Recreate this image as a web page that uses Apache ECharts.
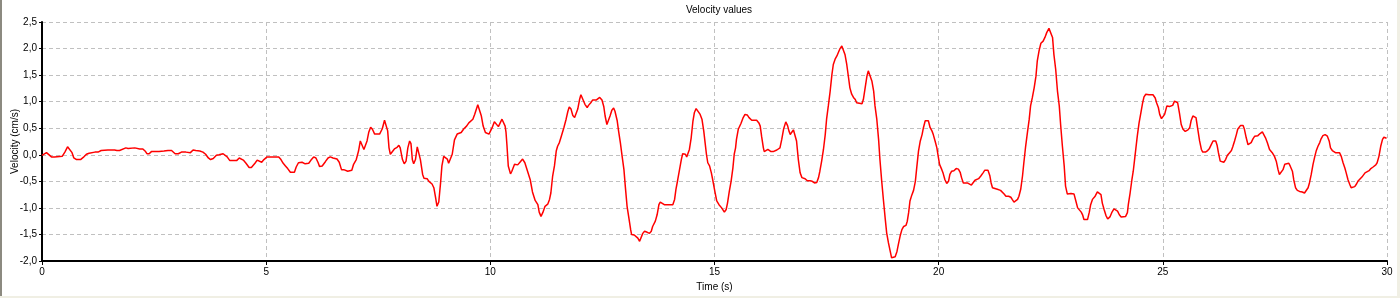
<!DOCTYPE html>
<html>
<head>
<meta charset="utf-8">
<script src="https://cdn.jsdelivr.net/npm/echarts@6/dist/echarts.min.js"></script>
<style>
html,body{margin:0;padding:0;background:#fff;}
#chart{width:1400px;height:298px;}
</style>
</head>
<body>
<div id="chart"></div>
<script>
const chartTitle = "Velocity values";
const xAxisName = "Time (s)";
const yAxisName = "Velocity (cm/s)";

const timeS = [
0.00,0.10,0.21,0.28,0.30,0.45,0.51,0.57,0.60,0.67,0.71,0.77,0.86,0.92,0.99,
1.05,1.18,1.25,1.32,1.47,1.62,1.67,1.73,1.77,1.87,1.92,1.96,
2.07,2.11,2.18,2.25,2.31,2.34,2.39,2.44,2.51,2.61,2.72,2.76,2.81,2.89,2.92,2.97,
3.04,3.11,3.21,3.24,3.31,3.37,3.43,3.46,3.52,3.59,3.65,3.71,3.76,3.82,3.89,3.95,
4.04,4.08,4.13,4.19,4.34,4.40,4.43,4.49,4.55,4.62,4.67,4.75,4.80,4.84,4.90,4.95,
5.02,5.17,5.20,5.28,5.33,5.38,5.43,5.48,5.54,5.58,5.63,5.67,5.72,5.80,5.87,5.95,
6.00,6.06,6.11,6.16,6.19,6.25,6.32,6.38,6.43,6.49,6.58,6.63,6.68,6.73,6.77,6.82,6.86,6.91,6.95,
7.01,7.06,7.10,7.14,7.18,7.21,7.25,7.29,7.33,7.37,7.42,7.53,7.59,7.64,7.68,7.71,7.74,7.77,7.81,7.86,7.92,7.96,7.99,
8.04,8.08,8.12,8.16,8.20,8.23,8.26,8.29,8.33,8.37,8.40,8.44,8.49,8.52,8.59,8.63,8.70,8.74,8.78,8.81,8.85,8.89,8.92,8.96,
9.00,9.04,9.07,9.11,9.15,9.20,9.26,9.35,9.41,9.47,9.52,9.61,9.65,9.72,9.76,9.80,9.84,9.89,9.97,
10.00,10.04,10.09,10.13,10.18,10.22,10.26,10.30,10.33,10.35,10.37,10.40,10.45,10.48,10.54,10.61,10.67,10.72,10.77,10.83,10.89,10.94,
11.00,11.06,11.09,11.13,11.17,11.22,11.28,11.32,11.35,11.39,11.43,11.47,11.50,11.54,11.58,11.64,11.69,11.73,11.76,11.80,11.84,11.88,11.91,11.95,11.99,
12.02,12.06,12.11,12.16,12.19,12.25,12.28,12.36,12.40,12.44,12.49,12.53,12.56,12.60,12.63,12.67,12.71,12.75,12.78,12.83,12.86,12.90,12.94,12.98,
13.01,13.05,13.09,13.13,13.15,13.21,13.25,13.29,13.33,13.36,13.40,13.44,13.50,13.55,13.59,13.62,13.68,13.72,13.76,13.79,13.82,13.88,
14.00,14.07,14.11,14.14,14.18,14.22,14.26,14.29,14.35,14.38,14.42,14.44,14.48,14.52,14.55,14.59,14.63,14.68,14.72,14.76,14.79,14.82,14.85,14.89,14.93,14.96,
15.01,15.05,15.10,15.16,15.22,15.26,15.29,15.33,15.37,15.41,15.44,15.47,15.49,15.53,15.59,15.64,15.68,15.73,15.77,15.83,15.94,15.99,
16.02,16.05,16.09,16.11,16.15,16.19,16.22,16.26,16.31,16.35,16.39,16.42,16.46,16.50,16.54,16.59,16.63,16.66,16.69,16.72,16.76,16.80,16.83,16.87,16.91,16.95,
17.02,17.07,17.13,17.18,17.23,17.28,17.32,17.35,17.39,17.43,17.47,17.50,17.54,17.58,17.62,17.65,17.69,17.73,17.76,17.80,17.84,17.87,17.91,17.95,17.99,
18.02,18.06,18.10,18.14,18.17,18.21,18.29,18.32,18.36,18.40,18.43,18.47,18.51,18.55,18.58,18.62,18.66,18.69,18.73,18.77,18.81,18.84,18.88,18.92,18.95,18.99,
19.03,19.07,19.10,19.14,19.18,19.22,19.27,19.30,19.33,19.36,19.40,19.44,19.48,19.51,19.55,19.59,19.63,19.66,19.70,19.74,19.77,19.81,19.85,19.88,19.92,19.96,
19.99,20.02,20.07,20.10,20.14,20.18,20.22,20.25,20.29,20.34,20.39,20.44,20.48,20.51,20.55,20.59,20.64,20.68,20.73,20.77,20.81,20.89,20.94,20.99,
21.03,21.06,21.10,21.14,21.17,21.20,21.24,21.31,21.38,21.42,21.46,21.50,21.56,21.61,21.64,21.68,21.72,21.76,21.79,21.83,21.87,21.90,21.94,21.98,
22.02,22.05,22.09,22.13,22.17,22.20,22.24,22.28,22.33,22.37,22.41,22.46,22.50,22.54,22.57,22.61,22.65,22.69,22.72,22.76,22.80,22.83,22.87,22.91,22.95,
23.02,23.06,23.10,23.13,23.18,23.21,23.24,23.28,23.32,23.36,23.39,23.43,23.49,23.54,23.58,23.62,23.65,23.69,23.73,23.77,23.82,23.86,23.91,23.95,23.99,
24.03,24.07,24.11,24.17,24.21,24.23,24.27,24.31,24.34,24.37,24.40,24.43,24.47,24.51,24.55,24.58,24.62,24.69,24.78,24.83,24.86,24.90,24.93,24.97,25.01,
25.04,25.09,25.15,25.19,25.22,25.26,25.30,25.33,25.37,25.41,25.45,25.50,25.56,25.60,25.63,25.67,25.71,25.74,25.78,25.82,25.86,25.89,25.95,
26.00,26.04,26.08,26.12,26.18,26.21,26.24,26.28,26.32,26.36,26.40,26.44,26.49,26.53,26.56,26.60,26.64,26.67,26.73,26.79,26.82,26.86,26.90,26.93,26.97,
27.01,27.05,27.12,27.17,27.22,27.25,27.29,27.33,27.38,27.44,27.49,27.53,27.57,27.60,27.64,27.68,27.72,27.75,27.81,27.84,27.89,27.92,27.96,
28.00,28.05,28.11,28.16,28.20,28.24,28.27,28.31,28.35,28.39,28.42,28.46,28.50,28.53,28.57,28.62,28.67,28.71,28.74,28.78,28.82,28.85,28.89,28.94,28.98,
29.02,29.06,29.09,29.13,29.17,29.20,29.24,29.28,29.32,29.35,29.39,29.44,29.48,29.51,29.55,29.60,29.64,29.69,29.75,29.78,29.82,29.86,29.90,29.93,29.99
];

const velocity = [
-0.01,0.04,-0.04,-0.04,-0.03,-0.03,0.05,0.15,0.15,0.04,-0.06,-0.09,-0.09,-0.05,0.01,
0.03,0.05,0.05,0.08,0.09,0.09,0.08,0.08,0.10,0.13,0.12,0.13,
0.13,0.10,0.11,0.11,0.06,0.02,0.02,0.06,0.06,0.06,0.07,0.06,0.08,0.08,0.06,0.02,
0.02,0.05,0.05,0.04,0.04,0.09,0.08,0.06,0.07,0.05,0.01,-0.06,-0.09,-0.07,-0.01,0.00,
0.02,0.01,-0.04,-0.11,-0.11,-0.06,-0.05,-0.10,-0.16,-0.24,-0.24,-0.16,-0.10,-0.13,-0.14,-0.09,
-0.04,-0.04,-0.03,-0.04,-0.09,-0.16,-0.21,-0.26,-0.33,-0.36,-0.33,-0.23,-0.15,-0.14,-0.17,-0.16,
-0.10,-0.04,-0.06,-0.15,-0.22,-0.21,-0.13,-0.06,-0.04,-0.06,-0.08,-0.14,-0.28,-0.28,-0.27,-0.31,-0.34,-0.29,-0.18,
-0.09,0.07,0.26,0.23,0.10,0.13,0.26,0.43,0.52,0.48,0.39,0.39,0.49,0.65,0.63,0.45,0.13,0.01,0.04,0.11,0.14,0.18,0.13,
-0.09,-0.17,-0.12,0.13,0.26,0.21,-0.09,-0.17,-0.09,0.15,0.13,-0.09,-0.37,-0.44,-0.45,-0.50,-0.55,-0.62,-0.81,-0.97,-0.89,-0.53,-0.21,-0.03,
-0.01,-0.08,-0.16,-0.15,0.01,0.28,0.39,0.42,0.49,0.54,0.60,0.67,0.76,0.94,0.91,0.73,0.54,0.42,0.39,
0.42,0.51,0.62,0.60,0.53,0.55,0.67,0.67,0.54,0.42,0.19,-0.21,-0.36,-0.31,-0.18,-0.19,-0.13,-0.08,-0.15,-0.31,-0.47,-0.70,
-0.86,-0.94,-1.08,-1.16,-1.09,-0.97,-0.93,-0.84,-0.72,-0.40,-0.21,0.07,0.16,0.23,0.34,0.51,0.67,0.82,0.90,0.86,0.74,0.70,0.73,0.86,1.04,
1.13,1.11,0.95,0.89,0.93,0.99,1.03,1.03,1.06,1.08,1.03,0.91,0.73,0.57,0.59,0.73,0.84,0.88,0.82,0.64,0.45,0.23,-0.03,-0.28,
-0.59,-0.97,-1.19,-1.41,-1.50,-1.51,-1.50,-1.57,-1.63,-1.60,-1.48,-1.44,-1.46,-1.48,-1.44,-1.35,-1.25,-1.13,-0.94,-0.89,-0.91,-0.94,
-0.94,-0.94,-0.84,-0.65,-0.47,-0.28,-0.09,0.02,0.01,-0.04,-0.03,0.10,0.32,0.64,0.79,0.87,0.84,0.76,0.67,0.45,0.23,0.01,-0.15,-0.21,-0.34,-0.47,
-0.70,-0.87,-0.94,-1.00,-1.08,-1.03,-0.91,-0.69,-0.50,-0.25,0.01,0.13,0.29,0.48,0.59,0.70,0.76,0.75,0.70,0.65,0.65,0.60,
0.54,0.35,0.13,0.06,0.07,0.10,0.10,0.06,0.06,0.09,0.09,0.08,0.13,0.29,0.48,0.62,0.55,0.45,0.38,0.42,0.47,0.45,0.26,-0.09,-0.34,-0.43,
-0.45,-0.49,-0.49,-0.50,-0.53,-0.52,-0.43,-0.31,-0.12,0.10,0.38,0.67,0.93,1.20,1.52,1.70,1.80,1.86,1.92,2.00,2.05,2.02,1.89,1.70,1.45,
1.26,1.14,1.08,1.04,0.98,0.96,0.96,1.04,1.26,1.48,1.58,1.55,1.39,1.20,0.92,0.67,0.29,-0.09,-0.50,-0.87,-1.22,-1.47,-1.66,-1.82,-1.94,-1.97,
-1.92,-1.82,-1.69,-1.53,-1.41,-1.35,-1.33,-1.25,-1.09,-0.87,-0.76,-0.67,-0.50,-0.25,0.07,0.26,0.38,0.51,0.64,0.67,0.64,0.51,0.45,0.38,0.26,0.13,
-0.03,-0.18,-0.28,-0.35,-0.47,-0.54,-0.50,-0.37,-0.31,-0.30,-0.26,-0.27,-0.33,-0.43,-0.53,-0.55,-0.53,-0.53,-0.57,-0.54,-0.48,-0.45,-0.40,-0.34,
-0.29,-0.26,-0.29,-0.39,-0.53,-0.62,-0.65,-0.65,-0.67,-0.70,-0.74,-0.78,-0.78,-0.80,-0.84,-0.89,-0.87,-0.84,-0.78,-0.65,-0.40,-0.15,0.16,0.42,
0.67,0.92,1.08,1.26,1.48,1.77,1.96,2.10,2.14,2.21,2.30,2.38,2.36,2.21,1.89,1.61,1.20,0.92,0.57,0.16,-0.21,-0.59,-0.74,-0.75,-0.73,
-0.74,-0.87,-1.00,-1.03,-1.08,-1.13,-1.22,-1.25,-1.22,-1.08,-0.94,-0.84,-0.78,-0.70,-0.72,-0.75,-0.91,-1.03,-1.14,-1.21,-1.17,-1.09,-1.02,-1.02,-1.06,
-1.13,-1.17,-1.16,-1.16,-1.09,-0.94,-0.72,-0.47,-0.31,-0.09,0.13,0.35,0.60,0.79,0.98,1.09,1.14,1.13,1.13,1.07,0.98,0.89,0.76,0.68,0.67,
0.76,0.92,0.91,0.89,0.93,1.01,1.04,0.98,0.79,0.57,0.48,0.44,0.47,0.51,0.64,0.73,0.76,0.70,0.48,0.26,0.10,0.05,0.05,
0.08,0.12,0.19,0.26,0.26,0.18,0.04,-0.12,-0.15,-0.14,-0.09,-0.01,0.04,0.08,0.15,0.26,0.38,0.48,0.55,0.55,0.48,0.32,0.19,0.18,0.23,
0.30,0.35,0.36,0.40,0.43,0.40,0.32,0.23,0.10,0.04,-0.03,-0.12,-0.28,-0.37,-0.37,-0.28,-0.18,-0.15,-0.16,-0.21,-0.31,-0.47,-0.62,
-0.67,-0.69,-0.70,-0.72,-0.69,-0.62,-0.53,-0.37,-0.18,-0.03,0.07,0.16,0.23,0.30,0.36,0.38,0.35,0.26,0.13,0.08,0.05,0.04,0.05,0.04,-0.03,
-0.15,-0.25,-0.34,-0.47,-0.56,-0.62,-0.64,-0.60,-0.55,-0.50,-0.47,-0.42,-0.39,-0.34,-0.31,-0.30,-0.26,-0.23,-0.19,-0.15,-0.03,0.16,0.29,0.33,0.31
];

const xTickInterval = 5;
const yTickInterval = 0.5;

const seriesData = timeS.map((t, i) => [t, velocity[i]]);

const chart = echarts.init(document.getElementById('chart'), null, {renderer: 'canvas'});
const font = '"Liberation Sans", Arial, sans-serif';
chart.setOption({
  animation: false,
  backgroundColor: '#ffffff',
  title: {
    text: chartTitle,
    left: 714, top: 0,
    textAlign: 'center',
    textStyle: {fontFamily: font, fontSize: 10, fontWeight: 'normal', color: '#000'}
  },
  grid: {left: 42, right: 13, top: 22, bottom: 37, containLabel: false, outerBoundsMode: 'none'},
  xAxis: {
    type: 'value', min: 0, max: 30, interval: xTickInterval,
    name: xAxisName, nameLocation: 'middle', nameGap: 21, nameMoveOverlap: false,
    nameTextStyle: {fontFamily: font, fontSize: 10, color: '#000'},
    axisLine: {onZero: false, lineStyle: {color: '#000', width: 2}},
    axisTick: {show: true, inside: false, length: 4, lineStyle: {color: '#000', width: 1}},
    axisLabel: {fontFamily: font, fontSize: 10, color: '#000', margin: 6},
    splitLine: {show: true, lineStyle: {color: '#c0c0c0', type: [4, 3], width: 1}}
  },
  yAxis: {
    type: 'value', min: -2, max: 2.5, interval: yTickInterval,
    name: yAxisName, nameLocation: 'middle', nameGap: 22, nameRotate: 90, nameMoveOverlap: false,
    nameTextStyle: {fontFamily: font, fontSize: 10, color: '#000'},
    axisLine: {show: true, onZero: false, lineStyle: {color: '#000', width: 2}},
    axisTick: {show: true, inside: false, length: 3, lineStyle: {color: '#000', width: 1}},
    axisLabel: {fontFamily: font, fontSize: 10, color: '#000', margin: 5,
      formatter: v => v.toFixed(1).replace('.', ',')},
    splitLine: {show: true, lineStyle: {color: '#c0c0c0', type: [4, 3], width: 1}}
  },
  series: [{
    type: 'line',
    data: seriesData,
    showSymbol: false,
    smooth: false,
    lineStyle: {color: '#ff0000', width: 1.5},
    z: 3
  }],
  graphic: [
    {type: 'rect', left: 0, top: 0, shape: {width: 2, height: 298}, style: {fill: '#8c8a80'}},
    {type: 'rect', left: 1397, top: 0, shape: {width: 3, height: 298}, style: {fill: '#f0efe4'}},
    {type: 'rect', left: 0, top: 296, shape: {width: 1400, height: 2}, style: {fill: '#f0efe4'}}
  ]
});
</script>
</body>
</html>
